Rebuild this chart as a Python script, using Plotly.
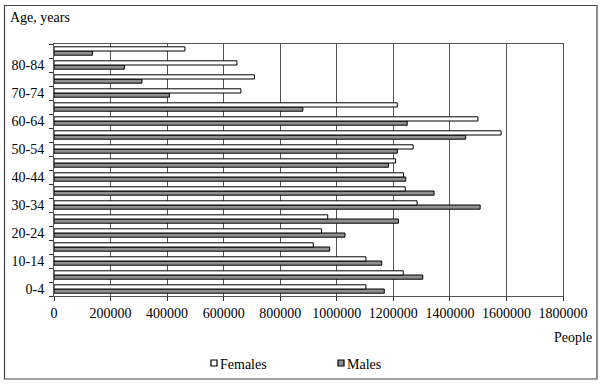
import plotly.graph_objects as go

age_groups = ["0-4", "5-9", "10-14", "15-19", "20-24", "25-29", "30-34", "35-39",
              "40-44", "45-49", "50-54", "55-59", "60-64", "65-69", "70-74",
              "75-79", "80-84", "85+"]
females = [1103000, 1235000, 1103000, 917000, 946000, 968000, 1284000, 1242000,
           1236000, 1208000, 1270000, 1581000, 1499000, 1214000, 661000,
           709000, 647000, 463000]
males = [1168000, 1304000, 1159000, 975000, 1029000, 1218000, 1507000, 1344000,
         1244000, 1183000, 1214000, 1456000, 1249000, 880000, 408000,
         311000, 249000, 136000]
y_tick_text = [g if i % 2 == 0 else "" for i, g in enumerate(age_groups)]
x_ticks = list(range(0, 1800001, 200000))

W, H = 604, 388
L, R, T, B = 54, 563, 44, 296
FONT = "Liberation Serif, Times New Roman, serif"
MALE_FILL = "#8f8f8f"


def px(x):
    return (x - L) / (R - L)


def py(y):
    return (B - y) / (B - T)


fig = go.Figure()
fig.add_trace(go.Bar(y=age_groups, x=males, orientation="h", name="Males",
                     marker=dict(color=MALE_FILL, line=dict(color="#000", width=1))))
fig.add_trace(go.Bar(y=age_groups, x=females, orientation="h", name="Females",
                     marker=dict(color="#ffffff", line=dict(color="#000", width=1))))

fig.update_layout(
    width=W, height=H,
    margin=dict(l=L, r=W - R, t=T, b=H - B, pad=0),
    paper_bgcolor="white", plot_bgcolor="white",
    barmode="group", bargap=0.4, bargroupgap=0,
    showlegend=False,
    font=dict(family=FONT, size=14, color="#000"),
)
fig.update_xaxes(
    range=[0, 1800000], tickmode="array", tickvals=x_ticks,
    ticktext=[str(v) for v in x_ticks],
    showgrid=True, gridcolor="#555", gridwidth=1,
    showline=True, linecolor="#555", linewidth=1, mirror=True,
    ticks="outside", ticklen=4, tickcolor="#333", zeroline=False,
    tickfont=dict(family=FONT, size=14, color="#000"),
)
fig.update_yaxes(
    type="category", categoryorder="array", categoryarray=age_groups,
    tickmode="array", tickvals=age_groups, ticktext=y_tick_text,
    tickson="boundaries", ticks="outside", ticklen=4, tickcolor="#333",
    showgrid=False, showline=True, linecolor="#555", linewidth=1, mirror=True,
    ticklabelstandoff=6,
    tickfont=dict(family=FONT, size=14, color="#000"),
)

# outer frame
fig.add_shape(type="rect", xref="paper", yref="paper",
              x0=px(4.5), x1=px(597), y0=py(379), y1=py(5.5),
              line=dict(color="#444", width=1.2), fillcolor="rgba(0,0,0,0)")

fig.add_annotation(text="Age, years", xref="paper", yref="paper",
                   x=px(8), y=py(18), xanchor="left", yanchor="middle",
                   showarrow=False, font=dict(family=FONT, size=14, color="#000"))
fig.add_annotation(text="People", xref="paper", yref="paper",
                   x=px(594), y=py(337), xanchor="right", yanchor="middle",
                   showarrow=False, font=dict(family=FONT, size=14, color="#000"))

# legend (manual)
for name, fill, sx in [("Females", "#ffffff", 211), ("Males", MALE_FILL, 338)]:
    fig.add_shape(type="rect", xref="paper", yref="paper",
                  x0=px(sx), x1=px(sx + 6), y0=py(366), y1=py(360),
                  line=dict(color="#000", width=1.2), fillcolor=fill)
    fig.add_annotation(text=name, xref="paper", yref="paper",
                       x=px(sx + 7), y=py(364), xanchor="left", yanchor="middle",
                       showarrow=False, font=dict(family=FONT, size=14, color="#000"))

fig.write_html("out.html", config={"displayModeBar": False},
               post_script="document.body.style.margin='0';")
